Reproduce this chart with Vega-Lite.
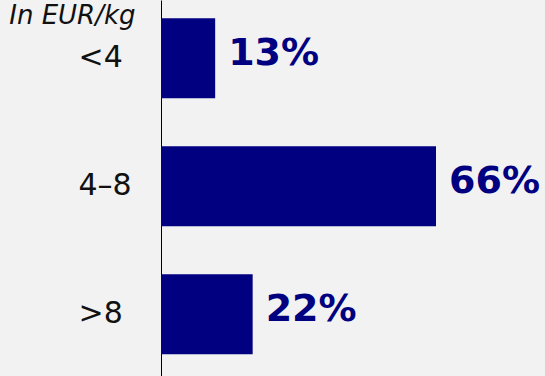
{
  "$schema": "https://vega.github.io/schema/vega-lite/v6.json",
  "width": 384,
  "height": 376,
  "autosize": "none",
  "padding": {"left": 161, "top": 0, "right": 0, "bottom": 0},
  "background": "#f2f2f2",
  "config": {"view": {"stroke": null}},
  "data": {"values": [
    {"range": "<4", "share": 13},
    {"range": "4–8", "share": 66},
    {"range": ">8", "share": 22}
  ]},
  "encoding": {
    "y": {
      "field": "range", "type": "nominal", "sort": null,
      "scale": {"paddingInner": 0.375, "paddingOuter": 0.156, "align": 0.458},
      "axis": {
        "title": "In EUR/kg", "titleAngle": 0, "titleAlign": "right", "titleBaseline": "top",
        "titleX": -26, "titleY": 2, "titleFont": "DejaVu Sans", "titleFontStyle": "italic",
        "titleFontWeight": "normal", "titleFontSize": 26, "titleColor": "#111111",
        "labelFont": "DejaVu Sans", "labelFontSize": 30, "labelColor": "#111111",
        "labelAlign": "left", "labelPadding": 83, "ticks": false,
        "domainColor": "#000000", "domainWidth": 1
      }
    },
    "x": {
      "field": "share", "type": "quantitative",
      "scale": {"domain": [0, 92.16], "nice": false},
      "axis": null
    }
  },
  "layer": [
    {"mark": {"type": "bar", "color": "#000080"}},
    {
      "mark": {"type": "text", "align": "left", "baseline": "middle", "dx": 13, "dy": -4,
               "font": "DejaVu Sans", "fontWeight": "bold", "fontSize": 38, "color": "#000080",
               "text": {"expr": "datum.share + '%'"}}
    }
  ]
}
